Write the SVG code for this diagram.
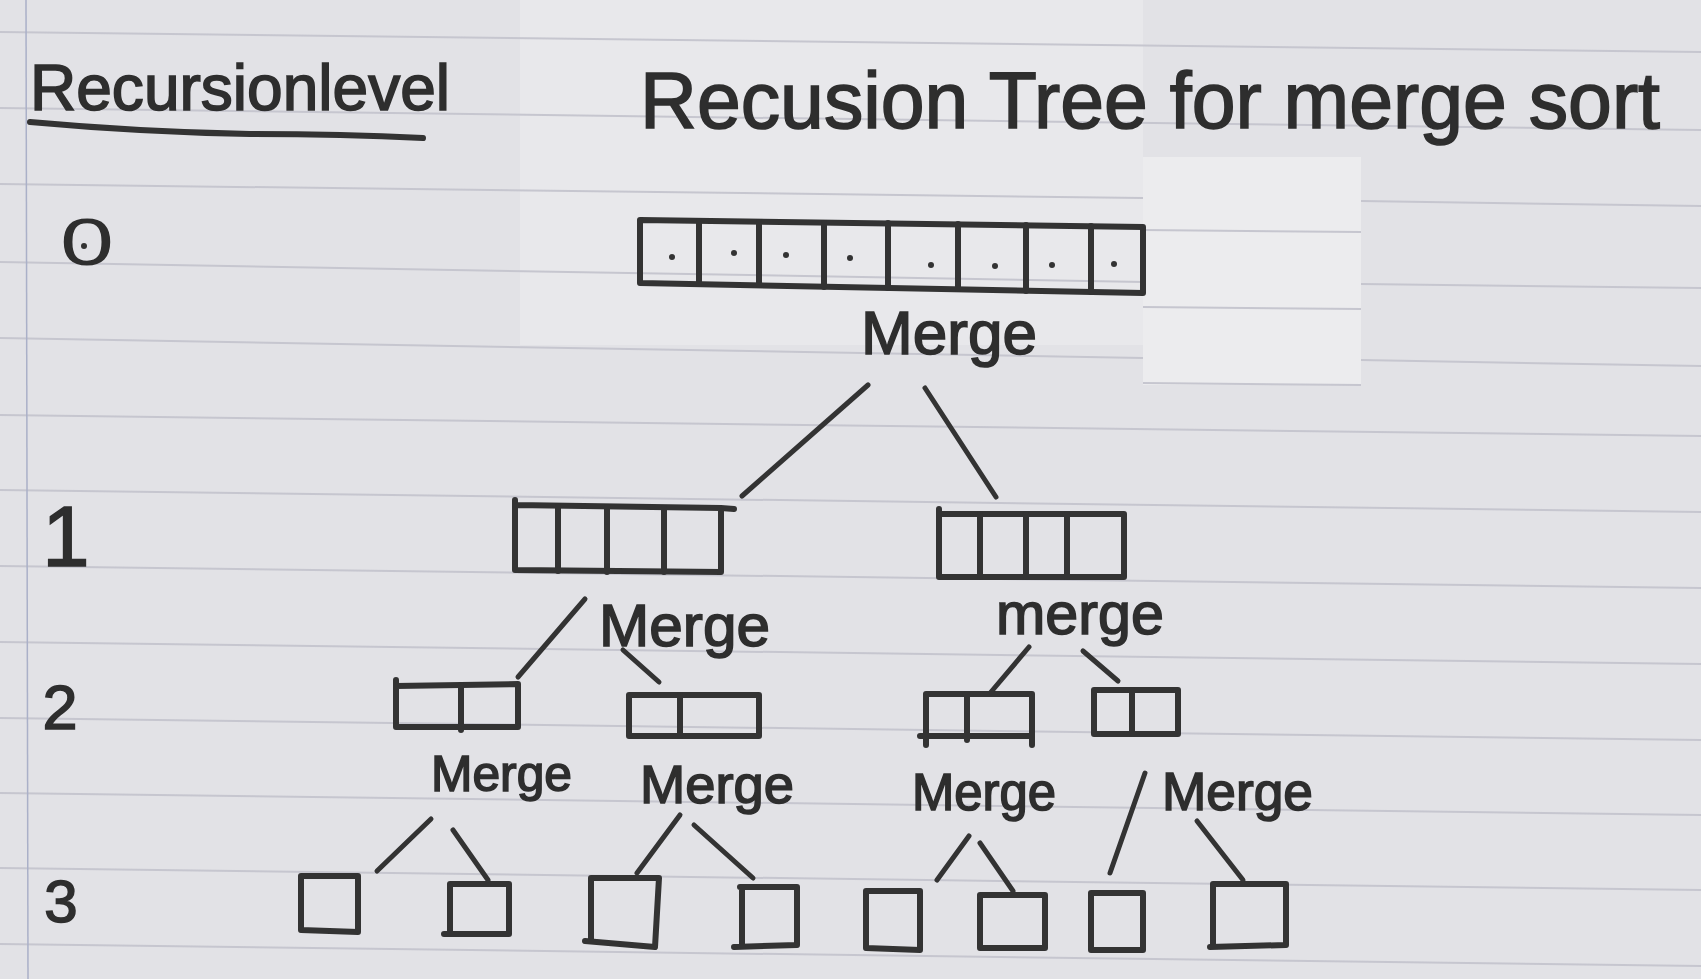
<svg xmlns="http://www.w3.org/2000/svg" width="1701" height="979" viewBox="0 0 1701 979">
<style>
.ink{fill:none;stroke:#333;stroke-width:6;stroke-linecap:round;stroke-linejoin:round}
.conn{fill:none;stroke:#333;stroke-width:5;stroke-linecap:round}
.rule{stroke:#c6c6cf;stroke-width:2;fill:none}
.txt{font-family:"Liberation Sans","DejaVu Sans",sans-serif;fill:#2e2e2e;stroke:#2e2e2e;stroke-width:1.6}
.dot{fill:#333}
</style>
<rect x="0" y="0" width="1701" height="979" fill="#e2e2e6"/>
<rect x="520" y="0" width="623" height="345" fill="#e8e8eb"/>
<rect x="1143" y="157" width="218" height="228" fill="#ececee"/>
<g id="paper-lines">
<path class="rule" d="M0 32 L1701 52"/>
<path class="rule" d="M0 108 L1701 130"/>
<path class="rule" d="M0 184 L1143 198 M1361 201 L1701 206"/>
<path class="rule" d="M0 262 L1143 282 M1361 284 L1701 288"/>
<path class="rule" d="M0 338 L1143 358 M1361 360 L1701 366"/>
<path class="rule" d="M1143 230 L1361 232 M1143 307 L1361 309 M1143 383 L1361 385"/>
<path class="rule" d="M0 415 L1701 436"/>
<path class="rule" d="M0 490 L1701 512"/>
<path class="rule" d="M0 566 L1701 588"/>
<path class="rule" d="M0 642 L1701 664"/>
<path class="rule" d="M0 718 L1701 740"/>
<path class="rule" d="M0 793 L1701 815"/>
<path class="rule" d="M0 868 L1701 890"/>
<path class="rule" d="M0 944 L1701 966"/>
<path d="M26 0 L28 979" stroke="#aab0c8" stroke-width="1.5" fill="none"/>
</g>

<g id="heading-level">
<text class="txt" x="30" y="110" font-size="64" textLength="420" lengthAdjust="spacingAndGlyphs">Recursionlevel</text>
<path class="ink" d="M30 122 Q140 132 250 134 Q340 134 423 138" stroke-width="5"/>
</g>
<g id="title">
<text class="txt" x="640" y="128" font-size="80" textLength="1020" lengthAdjust="spacingAndGlyphs">Recusion Tree for merge sort</text>
</g>

<g id="level-labels">
<text transform="translate(87,265) scale(1.45,1)" x="0" y="0" font-size="67" text-anchor="middle" font-family="Liberation Sans, DejaVu Sans, sans-serif" fill="#2e2e2e">0</text>
<circle class="dot" cx="84" cy="246" r="3"/>
<text class="txt" x="66" y="566" font-size="85" text-anchor="middle">1</text>
<text class="txt" x="60" y="729" font-size="63" text-anchor="middle">2</text>
<text class="txt" x="61" y="922" font-size="60" text-anchor="middle">3</text>
</g>

<g id="array-level0">
<path class="ink" d="M640 220 L1143 227 L1143 293 L640 283 Z"/>
<path class="ink" d="M699 221 L699 284 M759 222 L759 285 M824 223 L824 287 M888 223 L888 288 M958 224 L958 289 M1026 225 L1026 291 M1091 226 L1091 292"/>
<circle class="dot" cx="672" cy="257" r="3"/>
<circle class="dot" cx="734" cy="253" r="3"/>
<circle class="dot" cx="786" cy="255" r="3"/>
<circle class="dot" cx="850" cy="258" r="3"/>
<circle class="dot" cx="931" cy="265" r="3"/>
<circle class="dot" cx="995" cy="266" r="3"/>
<circle class="dot" cx="1052" cy="265" r="3"/>
<circle class="dot" cx="1114" cy="264" r="3"/>
</g>

<g id="array-level1-left">
<path class="ink" d="M515 500 L515 570 L721 572 L721 508 L515 505 M721 508 L734 509"/>
<path class="ink" d="M558 506 L558 571 M607 507 L607 572 M664 508 L664 572"/>
</g>
<g id="array-level1-right">
<path class="ink" d="M939 509 L939 577 L1124 577 L1124 514 L939 514"/>
<path class="ink" d="M980 514 L980 577 M1026 514 L1026 577 M1067 514 L1067 577"/>
</g>

<g id="array-level2-a">
<path class="ink" d="M396 680 L396 727 L518 727 L518 684 L396 686"/>
<path class="ink" d="M461 685 L461 730"/>
</g>
<g id="array-level2-b">
<path class="ink" d="M629 695 L629 736 L759 736 L759 695 Z"/>
<path class="ink" d="M680 695 L680 736"/>
</g>
<g id="array-level2-c">
<path class="ink" d="M926 745 L926 694 L1032 694 L1032 745 M920 736 L1032 736"/>
<path class="ink" d="M967 694 L967 740"/>
</g>
<g id="array-level2-d">
<path class="ink" d="M1094 690 L1178 690 L1178 734 L1094 734 Z"/>
<path class="ink" d="M1132 690 L1132 734"/>
</g>

<g id="leaf-1"><path class="ink" d="M301 876 L358 876 L358 932 L301 930 Z"/></g>
<g id="leaf-2"><path class="ink" d="M450 884 L509 884 L509 934 L444 934 M450 884 L450 934"/></g>
<g id="leaf-3"><path class="ink" d="M591 878 L659 878 L655 947 L585 941 M591 878 L591 941"/></g>
<g id="leaf-4"><path class="ink" d="M740 887 L797 887 L797 945 L734 947 M742 887 L742 945"/></g>
<g id="leaf-5"><path class="ink" d="M866 891 L920 891 L920 950 L866 948 Z"/></g>
<g id="leaf-6"><path class="ink" d="M980 895 L1045 895 L1045 948 L980 948 Z"/></g>
<g id="leaf-7"><path class="ink" d="M1091 893 L1143 893 L1143 950 L1091 950 Z"/></g>
<g id="leaf-8"><path class="ink" d="M1213 884 L1286 884 L1286 945 L1210 947 M1213 884 L1213 947"/></g>

<g id="connectors">
<path class="conn" d="M868 385 L742 496"/>
<path class="conn" d="M925 388 L996 497"/>
<path class="conn" d="M585 599 L518 677"/>
<path class="conn" d="M623 650 L659 682"/>
<path class="conn" d="M1029 647 L991 692"/>
<path class="conn" d="M1083 651 L1118 681"/>
<path class="conn" d="M431 819 L377 871"/>
<path class="conn" d="M453 830 L488 880"/>
<path class="conn" d="M680 815 L637 873"/>
<path class="conn" d="M694 825 L753 878"/>
<path class="conn" d="M969 836 L937 880"/>
<path class="conn" d="M980 843 L1013 891"/>
<path class="conn" d="M1145 773 L1110 873"/>
<path class="conn" d="M1197 821 L1243 880"/>
</g>

<g id="merge-labels">
<text class="txt" x="861" y="354" font-size="62" textLength="176" lengthAdjust="spacingAndGlyphs">Merge</text>
<text class="txt" x="599" y="646" font-size="60" textLength="171" lengthAdjust="spacingAndGlyphs">Merge</text>
<text class="txt" x="996" y="634" font-size="60" textLength="168" lengthAdjust="spacingAndGlyphs">merge</text>
<text class="txt" x="431" y="791" font-size="50" textLength="141" lengthAdjust="spacingAndGlyphs">Merge</text>
<text class="txt" x="640" y="803" font-size="54" textLength="154" lengthAdjust="spacingAndGlyphs">Merge</text>
<text class="txt" x="912" y="810" font-size="51" textLength="144" lengthAdjust="spacingAndGlyphs">Merge</text>
<text class="txt" x="1162" y="810" font-size="53" textLength="151" lengthAdjust="spacingAndGlyphs">Merge</text>
</g>
</svg>
